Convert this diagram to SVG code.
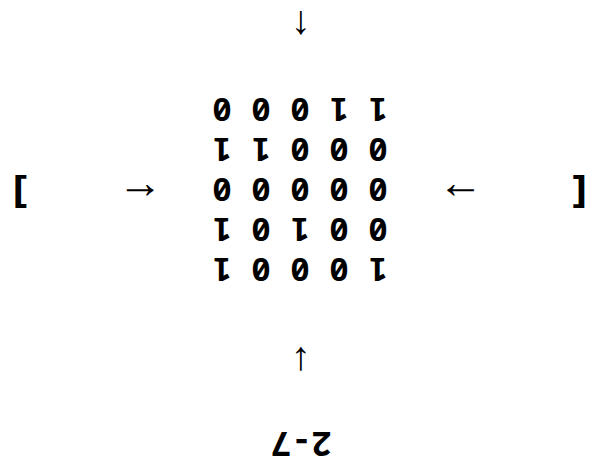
<svg xmlns="http://www.w3.org/2000/svg" width="592" height="465" viewBox="0 0 592 465">
<style>
.mono{font-family:"Noto Sans Mono","DejaVu Sans Mono",monospace;font-weight:bold;fill:#000;text-anchor:middle;font-feature-settings:"zero" 1}
.title{font-size:34px}
.mat{font-size:32.5px}
.br{font-size:38px}
.arr{font-family:"Liberation Sans","DejaVu Sans",sans-serif;fill:#000;text-anchor:middle}
.h{font-size:45px}
.v{font-size:40px}
</style>
<rect width="592" height="465" fill="#fff"/>
<g transform="rotate(180 296 232.5)">
  <g id="title"><text class="mono title" x="290.5" y="33">2-7</text></g>
  <g id="matrix">
    <text class="mono mat" x="292" y="207">1 0 0 0 1</text>
    <text class="mono mat" x="292" y="247">0 0 1 0 1</text>
    <text class="mono mat" x="292" y="287">0 0 0 0 0</text>
    <text class="mono mat" x="292" y="327">0 0 0 1 1</text>
    <text class="mono mat" x="292" y="367">1 1 0 0 0</text>
  </g>
  <g id="bracket-left"><text class="mono br" transform="translate(11 0) scale(1.2 1)" x="0" y="284.5">[</text></g>
  <g id="bracket-right"><text class="mono br" transform="translate(573.5 0) scale(1.2 1)" x="0" y="284.5">]</text></g>
  <g id="connectors">
    <text class="arr v" x="291.3" y="117">↓</text>
    <text class="arr v" x="291.3" y="453">↑</text>
    <text class="arr h" x="131.5" y="282">→</text>
    <text class="arr h" x="452" y="282">←</text>
  </g>
</g>
</svg>
